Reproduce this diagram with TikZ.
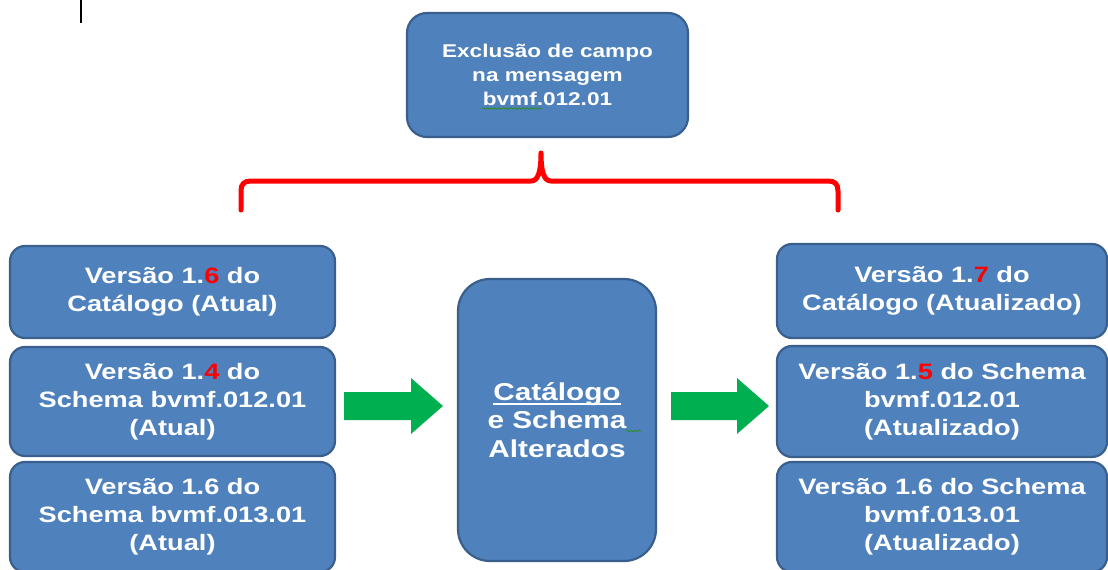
\documentclass[tikz,border=0pt]{standalone}
\usepackage{fontspec}
\setmainfont[FakeStretch=1.22]{Liberation Sans}
\usetikzlibrary{decorations.pathmorphing}
\definecolor{boxfill}{HTML}{4F81BD}
\definecolor{boxedge}{HTML}{3A5F8C}
\definecolor{arrowgreen}{HTML}{00B050}
\definecolor{spellgreen}{HTML}{2E8B2E}
\newcommand{\rd}[1]{\textcolor{red}{#1}}
\newcommand{\ulcat}[1]{\setbox0\hbox{#1}\rlap{\rule[-4.2pt]{\wd0}{1.6pt}}\box0}
\tikzset{
  boxbase/.style={draw=boxedge, line width=2.2pt, fill=boxfill, inner sep=0pt,
    text=white, align=center},
  sidebox/.style={boxbase, rounded corners=15pt, minimum width=325pt,
    font=\bfseries\fontsize{22.3}{28}\selectfont},
  topbox/.style={boxbase, rounded corners=20pt, minimum width=281pt, minimum height=124pt,
    font=\bfseries\fontsize{18.5}{24}\selectfont},
  midbox/.style={boxbase, rounded corners=32pt, minimum width=198pt, minimum height=282pt,
    font=\bfseries\fontsize{24.4}{28.5}\selectfont},
  bigarrow/.style={fill=arrowgreen, draw=none},
  bracket/.style={draw=red, line width=5pt, line cap=round, line join=round},
  squiggle/.style={draw=spellgreen, line width=0.8pt, decorate,
    decoration={snake, amplitude=0.9pt, segment length=4pt}}
}
\begin{document}
\begin{tikzpicture}[x=1pt, y=-1pt]
\useasboundingbox (0,0) rectangle (1108,570);

% text cursor
\draw[black, line width=1.6pt] (81,0) -- (81,23);

% top box
\node[topbox] (top) at (547.5,75) {Exclusão de campo\\na mensagem\\bvmf.012.01};
\draw[squiggle] (482,108.5) -- (542,108.5);

% bracket
\coordinate (bl) at (241,210);
\coordinate (br) at (838,210);
\coordinate (peak) at (541,153);
\draw[bracket] (bl) -- (241,191) .. controls (241,184) and (244,181) .. (251,181)
  -- (531,181) .. controls (538,181) and (541,172) .. (peak)
  .. controls (541,172) and (544,181) .. (551,181)
  -- (828,181) .. controls (835,181) and (838,184) .. (838,191) -- (br);

% left boxes
\node[sidebox, minimum height=92pt] (l1) at (172.5,292) {Versão 1.\rd{6} do\\Catálogo (Atual)};
\node[sidebox, minimum height=109pt] (l2) at (172.5,401.5) {Versão 1.\rd{4} do\\Schema bvmf.012.01\\(Atual)};
\node[sidebox, minimum height=110pt] (l3) at (172.5,517) {Versão 1.6 do\\Schema bvmf.013.01\\(Atual)};

% middle box
\node[midbox] (mid) at (557,420) {\ulcat{Catálogo}\\e Schema\\Alterados};
\draw[squiggle] (626,431) -- (641,431);

% right boxes
\node[sidebox, minimum width=330pt, minimum height=94pt] (r1) at (942,291) {Versão 1.\rd{7} do\\Catálogo (Atualizado)};
\node[sidebox, minimum width=330pt, minimum height=111pt] (r2) at (942,401.5) {Versão 1.\rd{5} do Schema\\bvmf.012.01\\(Atualizado)};
\node[sidebox, minimum width=330pt, minimum height=110pt] (r3) at (942,517) {Versão 1.6 do Schema\\bvmf.013.01\\(Atualizado)};

% green arrows
\fill[bigarrow] (344,392) -- (411,392) -- (411,378) -- (443,406) -- (411,434) -- (411,420) -- (344,420) -- cycle;
\fill[bigarrow] (671,392) -- (737,392) -- (737,378) -- (769,406) -- (737,434) -- (737,420) -- (671,420) -- cycle;
\end{tikzpicture}
\end{document}
